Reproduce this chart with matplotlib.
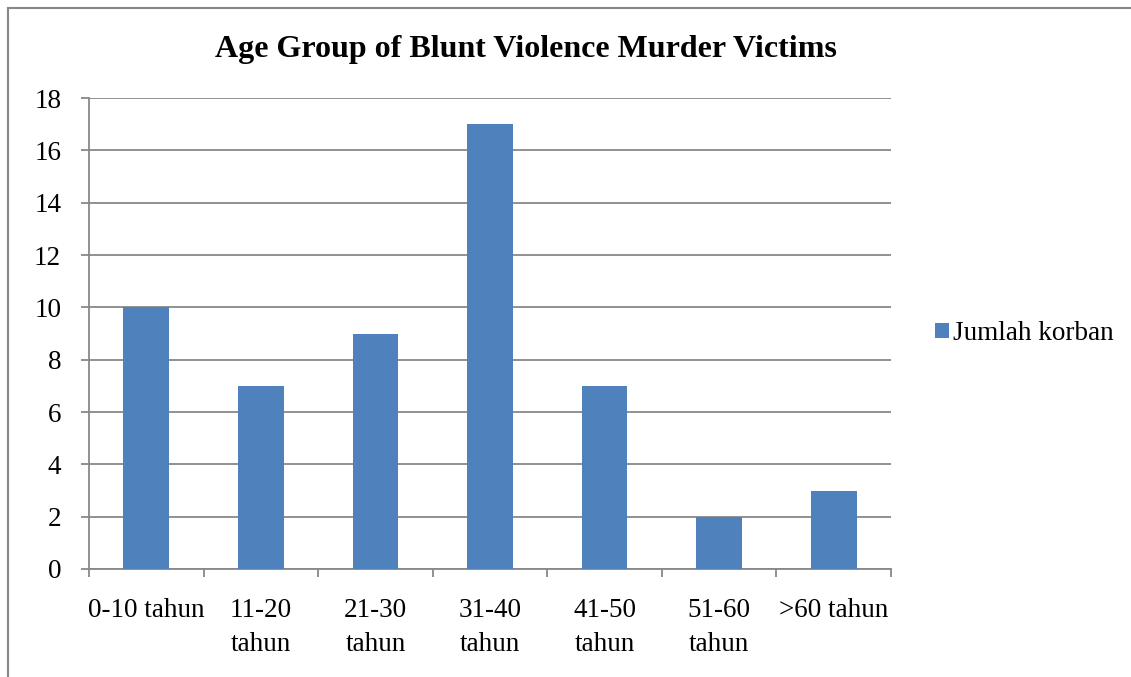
import numpy as np
import matplotlib.pyplot as plt
from matplotlib.lines import Line2D

categories = ['0-10 tahun', '11-20\ntahun', '21-30\ntahun', '31-40\ntahun',
              '41-50\ntahun', '51-60\ntahun', '>60 tahun']
values = [10, 7, 9, 17, 7, 2, 3]
series_name = 'Jumlah korban'

plt.rcParams['font.family'] = ['Liberation Serif', 'DejaVu Serif']

fig = plt.figure(figsize=(11.31, 6.77), dpi=100)
ax = fig.add_axes([89/1131, 1-569/677, 802/1131, 471/677])

x = np.arange(len(categories))
ax.bar(x, values, width=0.40, color='#4F81BD', label=series_name, zorder=3)

ax.set_xlim(-0.5, len(categories) - 0.5)
ax.set_ylim(0, 18)
ax.set_yticks(np.arange(0, 19, 2))
ax.yaxis.grid(True, color='#888888', linewidth=1.3, zorder=0)

ax.set_xticks(np.arange(-0.5, len(categories), 1))
ax.set_xticklabels([])
ax.set_xticks(x, minor=True)
ax.set_xticklabels(categories, minor=True, fontsize=19.5, linespacing=1.45, va='top')
ax.tick_params(axis='x', which='major', length=6, width=1.3, color='#888888', direction='out')
ax.tick_params(axis='x', which='minor', length=0, pad=21)
ax.tick_params(axis='y', length=6, width=1.3, color='#888888', labelsize=19.5, pad=14)

for s in ['top', 'right']:
    ax.spines[s].set_visible(False)
for s in ['left', 'bottom']:
    ax.spines[s].set_color('#888888')
    ax.spines[s].set_linewidth(1.3)

fig.text(526/1131, 1-50/677, 'Age Group of Blunt Violence Murder Victims',
         ha='center', va='center', fontsize=23, fontweight='bold')

leg = ax.legend(loc='center left', bbox_to_anchor=(1.025, 0.5), frameon=False,
                fontsize=19.5, handlelength=0.5, handleheight=0.5, handletextpad=0.15)

# outer chart border (partly cropped)
fig.add_artist(Line2D([8/1131, 8/1131], [0, 1-8/677], transform=fig.transFigure,
                      color='#888888', linewidth=1.5))
fig.add_artist(Line2D([8/1131, 1], [1-8/677, 1-8/677], transform=fig.transFigure,
                      color='#888888', linewidth=1.5))

fig.savefig('out.png', dpi=100)
